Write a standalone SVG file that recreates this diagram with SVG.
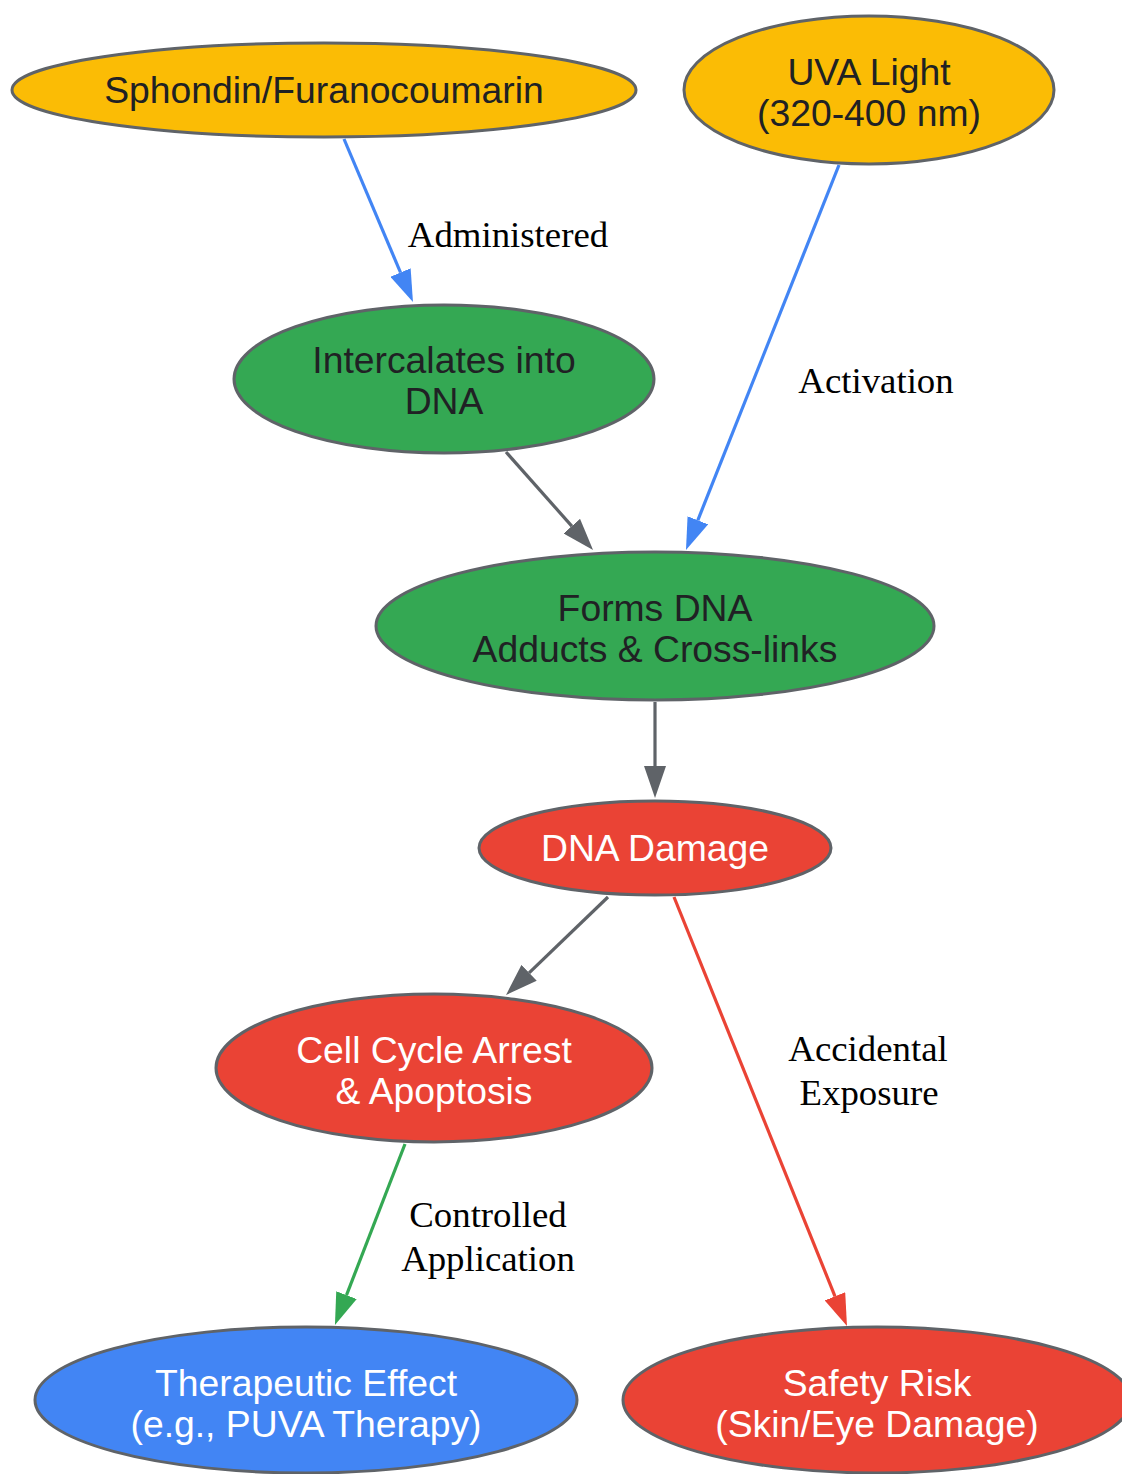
<svg xmlns="http://www.w3.org/2000/svg" width="1122" height="1474" viewBox="0 0 1122 1474">
<style>
.node ellipse{stroke:#5F6368;stroke-width:3}
.node text{font-family:"Liberation Sans",Arial,sans-serif;font-size:37.3px;text-anchor:middle}
.dark{fill:#202124}
.light{fill:#FFFFFF}
.y{fill:#FBBC05}
.g{fill:#34A853}
.r{fill:#EA4335}
.b{fill:#4285F4}
.edge{stroke-width:3.2;fill:none}
.lbl{font-family:"Liberation Serif","Times New Roman",serif;font-size:36.8px;text-anchor:middle;fill:#000}
</style>
<defs>
<marker id="ah-grey" markerUnits="userSpaceOnUse" markerWidth="32" markerHeight="22" refX="0" refY="11" orient="auto"><path d="M0,0 L32,11 L0,22 Z" fill="#5F6368"/></marker>
<marker id="ah-blue" markerUnits="userSpaceOnUse" markerWidth="32" markerHeight="22" refX="0" refY="11" orient="auto"><path d="M0,0 L32,11 L0,22 Z" fill="#4285F4"/></marker>
<marker id="ah-red" markerUnits="userSpaceOnUse" markerWidth="32" markerHeight="22" refX="0" refY="11" orient="auto"><path d="M0,0 L32,11 L0,22 Z" fill="#EA4335"/></marker>
<marker id="ah-green" markerUnits="userSpaceOnUse" markerWidth="32" markerHeight="22" refX="0" refY="11" orient="auto"><path d="M0,0 L32,11 L0,22 Z" fill="#34A853"/></marker>
</defs>
<rect width="1122" height="1474" fill="#FFFFFF"/>
<g id="connectors">
<line class="edge" x1="344" y1="139" x2="400.5" y2="272.5" stroke="#4285F4" marker-end="url(#ah-blue)"/>
<text class="lbl" x="508" y="247">Administered</text>
<line class="edge" x1="839" y1="165" x2="697.8" y2="520.3" stroke="#4285F4" marker-end="url(#ah-blue)"/>
<text class="lbl" x="876" y="393">Activation</text>
<line class="edge" x1="506" y1="452" x2="571.8" y2="526.1" stroke="#5F6368" marker-end="url(#ah-grey)"/>
<line class="edge" x1="655" y1="702" x2="655" y2="766" stroke="#5F6368" marker-end="url(#ah-grey)"/>
<line class="edge" x1="608" y1="897" x2="529.1" y2="972.8" stroke="#5F6368" marker-end="url(#ah-grey)"/>
<line class="edge" x1="674" y1="897" x2="835" y2="1296.3" stroke="#EA4335" marker-end="url(#ah-red)"/>
<text class="lbl" x="868" y="1061">Accidental</text>
<text class="lbl" x="869" y="1105">Exposure</text>
<line class="edge" x1="405" y1="1144" x2="346.5" y2="1295.1" stroke="#34A853" marker-end="url(#ah-green)"/>
<text class="lbl" x="488" y="1227">Controlled</text>
<text class="lbl" x="488" y="1271">Application</text>
</g>
<g id="sphondin" class="node">
<ellipse class="y" cx="324" cy="90" rx="312" ry="47"/>
<text class="dark" x="324" y="103">Sphondin/Furanocoumarin</text>
</g>
<g id="uva" class="node">
<ellipse class="y" cx="869" cy="90" rx="185" ry="74"/>
<text class="dark" x="869" y="85">UVA Light</text>
<text class="dark" x="869" y="126">(320-400 nm)</text>
</g>
<g id="intercalates" class="node">
<ellipse class="g" cx="444" cy="379" rx="210" ry="74"/>
<text class="dark" x="444" y="373">Intercalates into</text>
<text class="dark" x="444" y="414">DNA</text>
</g>
<g id="forms" class="node">
<ellipse class="g" cx="655" cy="626" rx="279" ry="74"/>
<text class="dark" x="655" y="621">Forms DNA</text>
<text class="dark" x="655" y="662">Adducts &amp; Cross-links</text>
</g>
<g id="damage" class="node">
<ellipse class="r" cx="655" cy="848" rx="176" ry="47"/>
<text class="light" x="655" y="861">DNA Damage</text>
</g>
<g id="cellcycle" class="node">
<ellipse class="r" cx="434" cy="1068" rx="218" ry="74"/>
<text class="light" x="434" y="1063">Cell Cycle Arrest</text>
<text class="light" x="434" y="1104">&amp; Apoptosis</text>
</g>
<g id="therapeutic" class="node">
<ellipse class="b" cx="306" cy="1400" rx="271" ry="73"/>
<text class="light" x="306" y="1396">Therapeutic Effect</text>
<text class="light" x="306" y="1437">(e.g., PUVA Therapy)</text>
</g>
<g id="safety" class="node">
<ellipse class="r" cx="877" cy="1400" rx="254" ry="73"/>
<text class="light" x="877" y="1396">Safety Risk</text>
<text class="light" x="877" y="1437">(Skin/Eye Damage)</text>
</g>
</svg>
